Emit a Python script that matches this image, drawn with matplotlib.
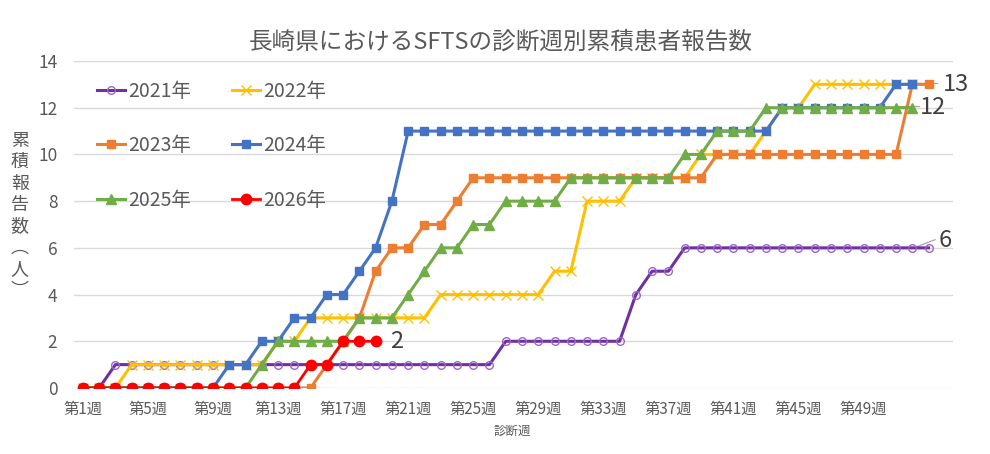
import matplotlib
matplotlib.use("Agg")
import matplotlib.pyplot as plt

plt.rcParams['font.family'] = ['Noto Sans CJK JP', 'DejaVu Sans']

# cumulative reported cases by diagnosis week
y2021 = [0] * 2 + [1] * 24 + [2] * 8 + [4] + [5] * 2 + [6] * 16
y2022 = [0] * 3 + [1] * 9 + [2] * 2 + [3] * 8 + [4] * 7 + [5] * 2 + [8] * 3 + [9] * 4 + [10] * 4 + [11] + [12] * 2 + [13] * 7
y2023 = [0] * 15 + [1, 2, 3, 5] + [6] * 2 + [7] * 2 + [8] + [9] * 15 + [10] * 12 + [13] * 2
y2024 = [0] * 9 + [1] * 2 + [2] * 2 + [3] * 2 + [4] * 2 + [5, 6, 8] + [11] * 23 + [12] * 7 + [13] * 2
y2025 = [0] * 11 + [1] + [2] * 5 + [3] * 3 + [4, 5] + [6] * 2 + [7] * 2 + [8] * 4 + [9] * 7 + [10] * 2 + [11] * 3 + [12] * 10
y2026 = [0] * 14 + [1] * 2 + [2] * 3

tick_weeks = list(range(1, 53, 4))
tick_labels = [f'第{w}週' for w in tick_weeks]

grey = '#595959'

fig = plt.figure(figsize=(9.9, 4.54), dpi=100)
ax = fig.add_axes([0.0747, 0.1454, 0.8879, 0.7202])

def weeks(vals):
    return list(range(1, len(vals) + 1))

lw = 2.2
l21, = ax.plot(weeks(y2021), y2021, color='#7030A0', lw=lw, marker='o', ms=5.5,
               mfc='none', mec='#9966CC', mew=1, label='2021年')
l22, = ax.plot(weeks(y2022), y2022, color='#FFC000', lw=lw, marker='x', ms=7,
               mew=1, label='2022年')
l23, = ax.plot(weeks(y2023), y2023, color='#ED7D31', lw=lw, marker='s', ms=5.5,
               label='2023年')
l24, = ax.plot(weeks(y2024), y2024, color='#4472C4', lw=lw, marker='s', ms=5.5,
               label='2024年')
l25, = ax.plot(weeks(y2025), y2025, color='#70AD47', lw=lw, marker='^', ms=6.5,
               label='2025年')
l26, = ax.plot(weeks(y2026), y2026, color='#FF0000', lw=2.0, marker='o', ms=7.5,
               label='2026年')

# end labels with leader lines
lead = '#A6A6A6'
ax.plot([52.1, 53.5], [13.05, 13.05], color=lead, lw=0.9, zorder=1.5)
ax.plot([51.15, 52.4], [12.06, 12.06], color=lead, lw=0.9, zorder=1.5)
ax.plot([52.1, 53.4], [6.0, 6.35], color=lead, lw=0.9, zorder=1.5)
for x, y, s in [(53.85, 13.0, '13'), (52.45, 12.0, '12'), (53.6, 6.3, '6'), (19.9, 2.0, '2')]:
    ax.text(x, y, s, fontsize=17, color='#404040', ha='left', va='center')

ax.set_xlim(0.45, 54.5)
ax.set_ylim(0, 14)
ax.set_yticks(range(0, 15, 2))
ax.set_xticks(tick_weeks)
ax.set_xticklabels(tick_labels)
ax.tick_params(axis='y', length=0, pad=12, labelsize=12.5, labelcolor=grey)
ax.tick_params(axis='x', length=0, pad=9, labelsize=11, labelcolor=grey)
ax.grid(axis='y', color='#D9D9D9', lw=1)
ax.set_axisbelow(True)
for s in ax.spines.values():
    s.set_visible(False)

# legend rows: (2021, 2022), (2023, 2024), (2025, 2026)
handles = [l21, l23, l25, l22, l24, l26]
ax.legend(handles=handles, loc='upper left', bbox_to_anchor=(0.026, 0.94), ncol=2,
          frameon=False, fontsize=14, labelcolor=grey, labelspacing=1.72,
          columnspacing=2.1, handlelength=1.45, handletextpad=0.15,
          borderpad=0, borderaxespad=0)

fig.text(0.506, 0.907, '長崎県におけるSFTSの診断週別累積患者報告数', fontsize=17,
         color=grey, ha='center', va='center')
fig.text(0.02, 0.525, '累\n積\n報\n告\n数\n︵\n人\n︶', fontsize=13, color=grey,
         ha='center', va='center', linespacing=1.24)
fig.text(0.517, 0.049, '診断週', fontsize=9, color=grey, ha='center', va='center')

fig.savefig('out.png', dpi=100)
